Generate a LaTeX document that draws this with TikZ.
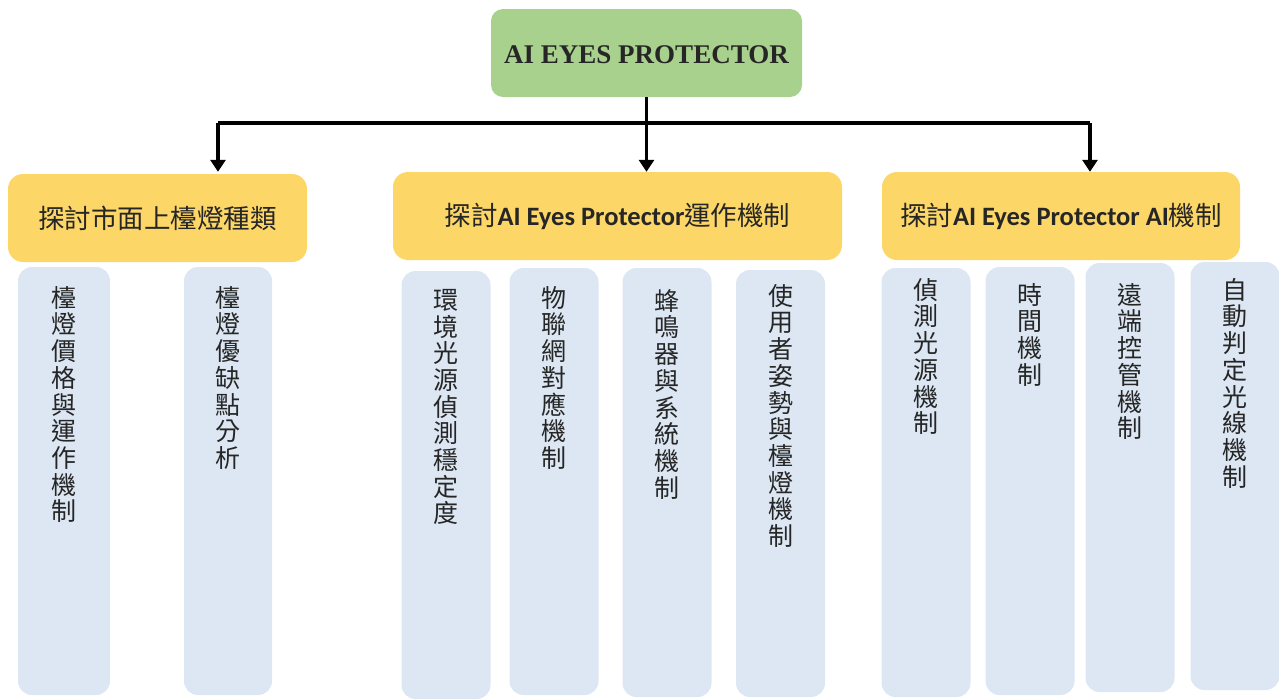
\documentclass[tikz,border=0pt]{standalone}
\usepackage{fontspec}
\setmainfont{Liberation Serif}
\newfontfamily\cjk{Noto Sans CJK TC}
\newfontfamily\lat{Carlito}
\usetikzlibrary{arrows.meta}
\definecolor{rootg}{HTML}{A9D18E}
\definecolor{hdr}{HTML}{FCD666}
\definecolor{colb}{HTML}{DCE7F3}
\definecolor{txt}{HTML}{262626}
\tikzset{
  rootbox/.style={rectangle, rounded corners=12pt, fill=rootg, minimum width=311pt, minimum height=88pt, inner sep=0pt, text height=22pt, font=\fontsize{27}{30}\selectfont\bfseries, text=txt},
  hdrbox/.style={rectangle, rounded corners=15pt, fill=hdr, minimum height=88pt, inner sep=0pt, font=\cjk\fontsize{26.5}{30}\selectfont, text=txt},
  colbox/.style={rectangle, rounded corners=14pt, fill=colb, inner sep=0pt, minimum width=89pt},
  coltext/.style={anchor=north, align=center, inner sep=0pt, font=\cjk\fontsize{25}{26.7}\selectfont, text=txt},
  conn/.style={line width=3.5pt, black},
  arr/.style={conn, -{Triangle[length=12pt,width=15pt]}}
}
\begin{document}
\begin{tikzpicture}[x=1pt,y=-1pt]
\useasboundingbox (0,0) rectangle (1279,699);
% root
\node[rootbox] (root) at (646.5,53) {AI EYES PROTECTOR};
% headers
\node[hdrbox, minimum width=299pt] (h1) at (157.5,218) {探討市面上檯燈種類};
\node[hdrbox, minimum width=449pt] (h2) at (617.5,216) {探討{\lat\bfseries AI Eyes Protector}運作機制};
\node[hdrbox, minimum width=358pt] (h3) at (1061,216) {探討{\lat\bfseries AI Eyes Protector AI}機制};
% connectors
\coordinate (busL) at (218,123);
\coordinate (busR) at (1090,123);
\draw[conn] (busL) -- (busR);
\draw[arr] (root.south) -- (root.south |- h2.north);
\draw[arr] (busL) -- ([yshift=2pt]busL |- h1.north);
\draw[arr] (busR) -- (busR |- h3.north);
% columns, left group
\node[colbox, minimum width=92pt, minimum height=428pt] (c1) at (64,481) {};
\node[colbox, minimum width=88pt, minimum height=428pt] (c2) at (228,481) {};
\node[coltext] (t1) at (64,286) {檯\\燈\\價\\格\\與\\運\\作\\機\\制};
\node[coltext] (t2) at (228,286) {檯\\燈\\優\\缺\\點\\分\\析};
% middle group
\node[colbox, minimum height=428pt] (m1) at (446,485) {};
\node[colbox, minimum height=427pt] (m2) at (554,481.5) {};
\node[colbox, minimum height=429pt] (m3) at (667,482.5) {};
\node[colbox, minimum height=427pt] (m4) at (780.5,483.5) {};
\node[coltext] (tm1) at (446,289) {環\\境\\光\\源\\偵\\測\\穩\\定\\度};
\node[coltext] (tm2) at (554,286) {物\\聯\\網\\對\\應\\機\\制};
\node[coltext] (tm3) at (667,289) {蜂\\鳴\\器\\與\\系\\統\\機\\制};
\node[coltext] (tm4) at (780.5,284) {使\\用\\者\\姿\\勢\\與\\檯\\燈\\機\\制};
% right group
\node[colbox, minimum height=429pt] (r1) at (926,482.5) {};
\node[colbox, minimum height=428pt] (r2) at (1030,481) {};
\node[colbox, minimum height=429pt] (r3) at (1130,477.5) {};
\node[colbox, minimum height=428pt] (r4) at (1235,476) {};
\node[coltext] (tr1) at (926,278) {偵\\測\\光\\源\\機\\制};
\node[coltext] (tr2) at (1030,283) {時\\間\\機\\制};
\node[coltext] (tr3) at (1130,283) {遠\\端\\控\\管\\機\\制};
\node[coltext] (tr4) at (1235,278) {自\\動\\判\\定\\光\\線\\機\\制};
\end{tikzpicture}
\end{document}
